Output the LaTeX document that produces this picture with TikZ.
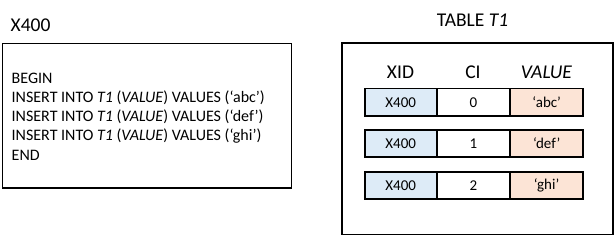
\documentclass[tikz,border=0pt]{standalone}
\usepackage{fontspec}
\setmainfont{Carlito}
\usepackage{tikz}

\definecolor{xidblue}{HTML}{DDEBF7}
\definecolor{valpeach}{HTML}{FCE4D6}

\tikzset{
  cell/.style={draw, line width=1.8pt, minimum width=73, minimum height=27.5, inner sep=0pt, font=\fontsize{15}{18}\selectfont},
  head/.style={inner sep=0pt, font=\fontsize{19.5}{23}\selectfont},
  title/.style={inner sep=0pt, font=\fontsize{19.5}{23}\selectfont},
}

\begin{document}
\begin{tikzpicture}[x=1pt, y=-1pt, line join=miter]

  %% ════ 左边：事务 X400 ════
  \node[title, anchor=west] (txname) at (10.5,25.5) {X400};
  \draw[line width=1.1pt] (2.5,43.5) rectangle (291.5,188.0);
  \node[anchor=west, align=left, inner sep=0pt, font=\fontsize{16}{19.3}\selectfont] (code) at (11.5,116.5)
    {BEGIN\\
     INSERT INTO \textit{T1} (\textit{VALUE}) VALUES (‘abc’)\\
     INSERT INTO \textit{T1} (\textit{VALUE}) VALUES (‘def’)\\
     INSERT INTO \textit{T1} (\textit{VALUE}) VALUES (‘ghi’)\\
     END};

  %% ════ 右边：表 T1 ════
  \node[title] (tblname) at (472.5,20.5) {TABLE \textit{T1}};
  \draw[line width=1.6pt] (342.0,43.0) rectangle (613.0,234.5);

  %% 表头
  \node[head] (hxid) at (400.5,72.0) {XID};
  \node[head] (hci)  at (473.0,72.0) {CI};
  \node[head] (hval) at (546.5,72.0) {\textit{VALUE}};

  %% 三行
  \foreach \ci/\val/\y in {0/abc/102.3, 1/def/143.4, 2/ghi/185.5} {
    \node[cell, fill=xidblue, minimum width=72] (xid\ci) at (400.7,\y) {X400};
    \node[cell, fill=white] (ci\ci)  at (473.3,\y) {\ci};
    \node[cell, fill=valpeach] (val\ci) at (546.7,\y) {‘\val’};
  }

  % 钉死画布
  \pgfresetboundingbox
  \path[use as bounding box] (0,0) rectangle (615,236);
\end{tikzpicture}
\end{document}
